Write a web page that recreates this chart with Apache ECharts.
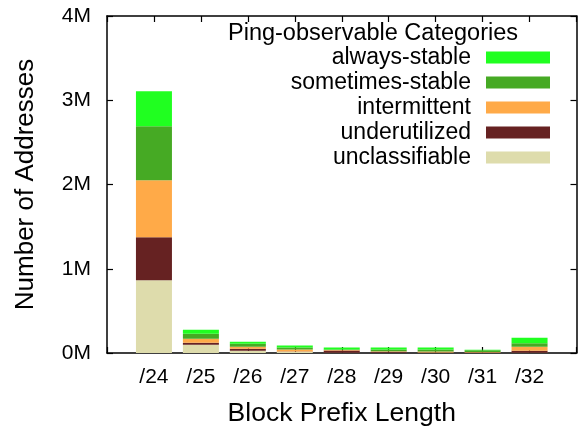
<!DOCTYPE html>
<html>
<head>
    <meta charset="utf-8" />
    <title>Ping-observable Categories</title>
    <script src="https://cdn.jsdelivr.net/npm/echarts@6/dist/echarts.min.js"></script>
    <style>
        body { margin: 0; background: #fff; }
        #main { width: 578px; height: 426px; }
    </style>
</head>
<body>
<div id="main"></div>
<script>
    let categories = ['/24', '/25', '/26', '/27', '/28', '/29', '/30', '/31', '/32']
    let yTicks = [0, 1000000, 2000000, 3000000, 4000000]

    let alwaysStable    = [416000, 48000, 24000, 24000, 24000, 24000, 24000,  6000, 67000]
    let sometimesStable = [641000, 59000, 36000, 24000,  4000, 22000, 22000, 20000, 40000]
    let intermittent    = [677000, 48000, 24000, 24000,  8000,  4000, 14000,  8000, 47000]
    let underutilized   = [511000, 24000, 24000,  3000, 27000, 14000,  3000,  3000, 25000]
    let unclassifiable  = [863000, 98000, 27000, 15000,  2000,  2000,  2000,  2000,  3000]

    let font = 'Liberation Sans'

    // gnuplot leaves one empty slot at each end of the x range
    let xData = [''].concat(categories).concat([''])
    function pad(arr) { return [null].concat(arr).concat([null]) }

    function mkSeries(name, data, color) {
        return {
            name: name,
            type: 'bar',
            stack: 'total',
            barWidth: 36,
            data: pad(data),
            itemStyle: { color: color },
            emphasis: { disabled: true }
        }
    }

    let tickStyle = { show: true, inside: true, length: 6, lineStyle: { color: '#000', width: 1.2 } }
    let lineStyle = { show: true, onZero: false, lineStyle: { color: '#000', width: 1.5 } }

    let chart = echarts.init(document.getElementById('main'))
    chart.setOption({
        animation: false,
        textStyle: { fontFamily: font, color: '#000' },
        title: {
            text: 'Ping-observable Categories',
            left: 228, top: 22, padding: 0,
            textStyle: { fontFamily: font, fontSize: 23.5, fontWeight: 'normal', color: '#000' }
        },
        legend: {
            orient: 'vertical',
            align: 'right',
            right: 28, top: 46, padding: 0,
            itemWidth: 64, itemHeight: 12, itemGap: 2,
            icon: 'rect',
            data: ['always-stable', 'sometimes-stable', 'intermittent', 'underutilized', 'unclassifiable'],
            textStyle: { fontFamily: font, fontSize: 23, lineHeight: 22, color: '#000', padding: [0, 10, 0, 0] }
        },
        grid: { left: 107, right: 1.5, top: 16, bottom: 73, outerBoundsMode: 'none', containLabel: false },
        xAxis: [{
            type: 'category',
            data: xData,
            boundaryGap: false,
            axisLine: lineStyle,
            axisTick: tickStyle,
            axisLabel: { fontSize: 21, margin: 14, color: '#000', fontFamily: font },
            splitLine: { show: false },
            name: 'Block Prefix Length',
            nameLocation: 'middle',
            nameGap: 47,
            nameTextStyle: { fontSize: 26.5, color: '#000', fontFamily: font }
        }, {
            type: 'category',
            position: 'top',
            data: xData,
            boundaryGap: false,
            axisLine: lineStyle,
            axisTick: tickStyle,
            axisLabel: { show: false }
        }],
        yAxis: [{
            type: 'value',
            min: yTicks[0], max: yTicks[yTicks.length - 1], interval: 1000000,
            axisLine: lineStyle,
            axisTick: tickStyle,
            splitLine: { show: false },
            axisLabel: {
                fontSize: 21, margin: 16, color: '#000', fontFamily: font,
                formatter: function (v) { return (v / 1000000) + 'M' }
            },
            name: 'Number of Addresses',
            nameLocation: 'middle',
            nameGap: 68,
            nameTextStyle: { fontSize: 26, color: '#000', fontFamily: font }
        }, {
            type: 'value',
            position: 'right',
            min: yTicks[0], max: yTicks[yTicks.length - 1], interval: 1000000,
            axisLine: lineStyle,
            axisTick: tickStyle,
            splitLine: { show: false },
            axisLabel: { show: false }
        }],
        series: [
            mkSeries('unclassifiable', unclassifiable, '#dedcac'),
            mkSeries('underutilized', underutilized, '#662222'),
            mkSeries('intermittent', intermittent, '#ffaa48'),
            mkSeries('sometimes-stable', sometimesStable, '#46aa24'),
            mkSeries('always-stable', alwaysStable, '#20ff20')
        ]
    })
</script>
</body>
</html>
